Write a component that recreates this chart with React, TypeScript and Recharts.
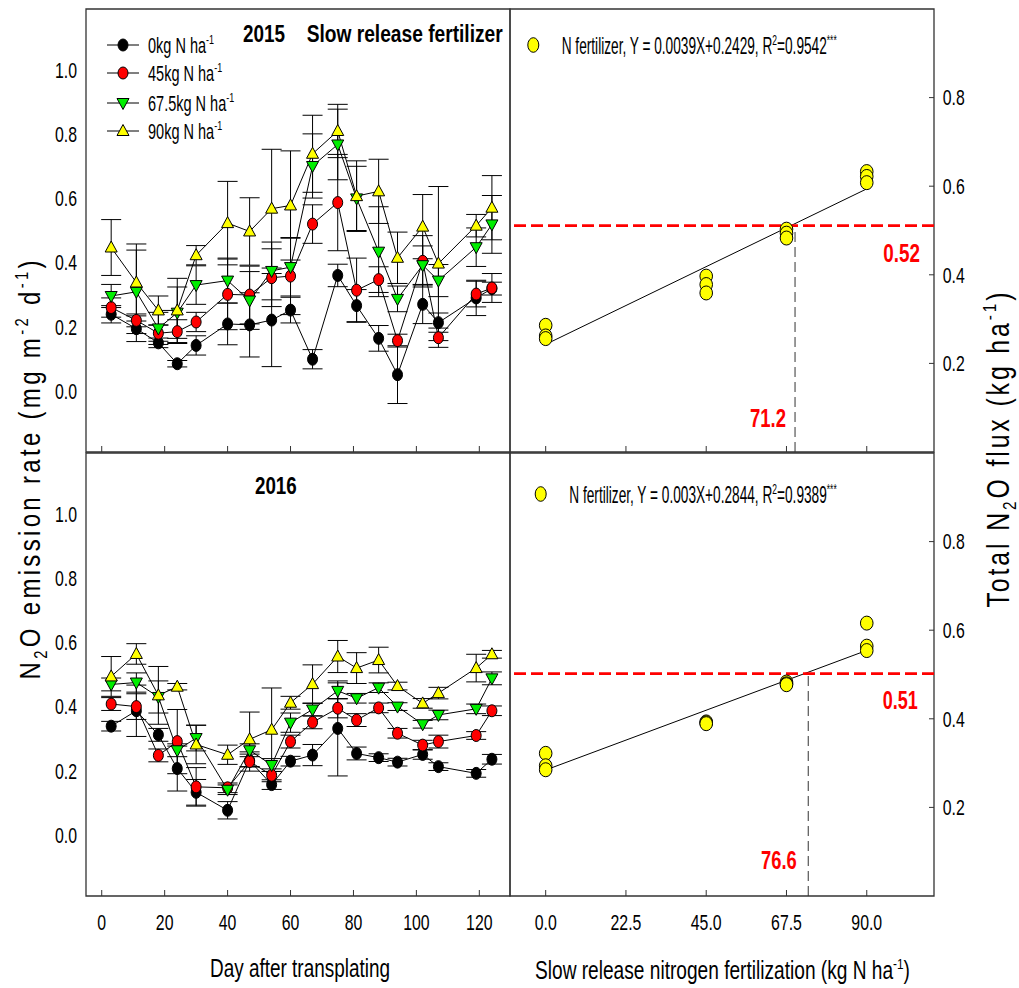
import React from 'react';
import { ComposedChart, Line, Scatter, XAxis, YAxis, ErrorBar, ReferenceLine, ReferenceArea } from 'recharts';

// ---------- data ----------
const DAYS = [3, 11, 18, 24, 30, 40, 47, 54, 60, 67, 75, 81, 88, 94, 102, 107, 119, 124];
const DAY_TICKS = [0, 20, 40, 60, 80, 100, 120];
const RATE_TICKS = [0, 0.2, 0.4, 0.6, 0.8, 1.0];

// 2015 emission rate (mg m-2 d-1)
const N0_2015 = [0.239, 0.194, 0.150, 0.085, 0.142, 0.209, 0.206, 0.221, 0.252, 0.099, 0.360, 0.266, 0.164, 0.051, 0.270, 0.213, 0.290, 0.319];
const N45_2015 = [0.260, 0.220, 0.180, 0.185, 0.215, 0.301, 0.299, 0.353, 0.358, 0.520, 0.587, 0.314, 0.347, 0.157, 0.404, 0.166, 0.302, 0.321];
const N67_2015 = [0.296, 0.309, 0.195, 0.244, 0.330, 0.344, 0.282, 0.374, 0.386, 0.701, 0.768, 0.600, 0.434, 0.287, 0.392, 0.344, 0.448, 0.519];
const N90_2015 = [0.447, 0.338, 0.251, 0.251, 0.423, 0.523, 0.497, 0.568, 0.578, 0.739, 0.810, 0.607, 0.622, 0.415, 0.512, 0.397, 0.515, 0.571];
const E0_2015 = [0.027, 0.040, 0.015, 0.010, 0.030, 0.065, 0.100, 0.145, 0.040, 0.030, 0.035, 0.050, 0.040, 0.090, 0.060, 0.030, 0.055, 0.020];
const E45_2015 = [0.030, 0.020, 0.025, 0.037, 0.030, 0.110, 0.090, 0.090, 0.120, 0.060, 0.150, 0.100, 0.040, 0.020, 0.080, 0.030, 0.040, 0.045];
const E67_2015 = [0.036, 0.130, 0.050, 0.080, 0.060, 0.070, 0.090, 0.090, 0.090, 0.100, 0.110, 0.100, 0.140, 0.040, 0.060, 0.050, 0.060, 0.090];
const E90_2015 = [0.087, 0.120, 0.045, 0.100, 0.030, 0.130, 0.105, 0.185, 0.170, 0.120, 0.083, 0.110, 0.100, 0.080, 0.100, 0.240, 0.035, 0.100];

// 2016 emission rate (mg m-2 d-1)
const N0_2016 = [0.339, 0.387, 0.312, 0.207, 0.133, 0.077, 0.232, 0.157, 0.230, 0.249, 0.332, 0.254, 0.241, 0.227, 0.251, 0.213, 0.192, 0.236];
const N45_2016 = [0.408, 0.400, 0.248, 0.291, 0.150, 0.147, 0.229, 0.186, 0.291, 0.351, 0.395, 0.358, 0.396, 0.317, 0.280, 0.291, 0.310, 0.387];
const N67_2016 = [0.469, 0.475, 0.430, 0.264, 0.302, 0.141, 0.264, 0.218, 0.350, 0.391, 0.449, 0.426, 0.459, 0.400, 0.345, 0.374, 0.393, 0.488];
const N90_2016 = [0.494, 0.564, 0.435, 0.462, 0.282, 0.250, 0.298, 0.328, 0.412, 0.470, 0.556, 0.520, 0.545, 0.464, 0.410, 0.442, 0.520, 0.563];
const E0_2016 = [0.015, 0.080, 0.020, 0.070, 0.040, 0.027, 0.020, 0.015, 0.015, 0.033, 0.148, 0.020, 0.012, 0.012, 0.015, 0.012, 0.012, 0.015];
const E45_2016 = [0.020, 0.040, 0.020, 0.100, 0.060, 0.015, 0.030, 0.020, 0.020, 0.020, 0.030, 0.020, 0.015, 0.015, 0.015, 0.020, 0.012, 0.015];
const E67_2016 = [0.020, 0.030, 0.050, 0.020, 0.040, 0.015, 0.020, 0.020, 0.030, 0.020, 0.025, 0.015, 0.015, 0.012, 0.012, 0.015, 0.015, 0.020];
const E90_2016 = [0.062, 0.032, 0.090, 0.010, 0.060, 0.030, 0.085, 0.130, 0.020, 0.060, 0.050, 0.048, 0.040, 0.012, 0.015, 0.018, 0.043, 0.012];

// Total N2O flux (kg ha-1) vs N rate
const N_RATE = [0, 0, 0, 45, 45, 45, 67.5, 67.5, 67.5, 90, 90, 90];
const N_TICKS = [0, 22.5, 45, 67.5, 90];
const FLUX_TICKS = [0.2, 0.4, 0.6, 0.8];
const TOTAL_2015 = [0.286, 0.262, 0.256, 0.397, 0.378, 0.359, 0.503, 0.494, 0.483, 0.633, 0.622, 0.608];
const TOTAL_2016 = [0.322, 0.294, 0.285, 0.393, 0.391, 0.389, 0.483, 0.479, 0.477, 0.616, 0.564, 0.554];
const FIT_X = [0, 90];
const FIT_2015 = [0.2429, 0.594];
const FIT_2016 = [0.2844, 0.5544];
const H_2015 = 0.511;
const V_2015 = 69.9;
const H_2016 = 0.502;
const V_2016 = 73.6;

// ---------- build tables ----------
const mkRows = (a: number[], b: number[], c: number[], d: number[], ea: number[], eb: number[], ec: number[], ed: number[]) =>
  DAYS.map((day, i) => ({ day, n0: a[i], n45: b[i], n67: c[i], n90: d[i], e0: ea[i], e45: eb[i], e67: ec[i], e90: ed[i] }));
const ROWS_2015 = mkRows(N0_2015, N45_2015, N67_2015, N90_2015, E0_2015, E45_2015, E67_2015, E90_2015);
const ROWS_2016 = mkRows(N0_2016, N45_2016, N67_2016, N90_2016, E0_2016, E45_2016, E67_2016, E90_2016);
const PTS_2015 = N_RATE.map((x, i) => ({ x, y: TOTAL_2015[i] }));
const PTS_2016 = N_RATE.map((x, i) => ({ x, y: TOTAL_2016[i] }));
const LINE_2015 = FIT_X.map((x, i) => ({ x, y: FIT_2015[i] }));
const LINE_2016 = FIT_X.map((x, i) => ({ x, y: FIT_2016[i] }));

// ---------- style ----------
const W = 1019;
const H = 988;
const FF = '"Liberation Sans", Arial, Helvetica, sans-serif';
const AX = '#333';
const LEFT_X0 = 86, MID_X = 510, RIGHT_X1 = 934;
const TOP_Y0 = 9, PANEL_H = 443, BOT_Y0 = 453;
const DAY_DOMAIN: [number, number] = [-5, 129.75];
const RATE_DOMAIN: [number, number] = [-0.19, 1.19];
const N_DOMAIN: [number, number] = [-10, 108.85];
const FLUX_DOMAIN: [number, number] = [0, 1];

type TxtProps = {
  x: number; y: number; size: number; sx?: number; rot?: number; anchor?: string; bold?: boolean;
  fill?: string; len?: number; adjust?: string; children?: React.ReactNode;
};
function Txt({ x, y, size, sx = 0.72, rot = 0, anchor = 'start', bold = false, fill = '#000', len, adjust = 'spacingAndGlyphs', children }: TxtProps) {
  return (
    <g transform={`translate(${x},${y}) rotate(${rot}) scale(${sx},1)`}>
      <text
        x={0}
        y={0}
        fontSize={size}
        fontFamily={FF}
        fontWeight={bold ? 'bold' : 'normal'}
        fill={fill}
        textAnchor={anchor as any}
        {...(len ? { textLength: len / sx, lengthAdjust: adjust } : {})}
      >
        {children}
      </text>
    </g>
  );
}

const Sup = ({ size, children }: { size: number; children: React.ReactNode }) => (
  <tspan baselineShift={`${(0.42 * size).toFixed(1)}px`} fontSize={0.62 * size}>{children}</tspan>
);
const Sub = ({ size, children }: { size: number; children: React.ReactNode }) => (
  <tspan baselineShift={`${(-0.22 * size).toFixed(1)}px`} fontSize={0.62 * size}>{children}</tspan>
);

// ---------- markers ----------
type Shape = 'circleBlack' | 'circleRed' | 'triDown' | 'triUp';
function Marker({ cx, cy, shape }: { cx: number; cy: number; shape: Shape }) {
  if (cx == null || cy == null) return null;
  if (shape === 'circleBlack') return <ellipse cx={cx} cy={cy} rx={5} ry={6} fill="#000" stroke="#000" strokeWidth={1} />;
  if (shape === 'circleRed') return <ellipse cx={cx} cy={cy} rx={5} ry={6} fill="#ff0000" stroke="#000" strokeWidth={1} />;
  if (shape === 'triDown')
    return <polygon points={`${cx - 6},${cy - 4.5} ${cx + 6},${cy - 4.5} ${cx},${cy + 6.5}`} fill="#00ee00" stroke="#000" strokeWidth={1} />;
  return <polygon points={`${cx},${cy - 6.5} ${cx - 6},${cy + 4.5} ${cx + 6},${cy + 4.5}`} fill="#ffff00" stroke="#000" strokeWidth={1} />;
}

const SERIES: { key: string; err: string; shape: Shape; label: string }[] = [
  { key: 'n0', err: 'e0', shape: 'circleBlack', label: '0kg N ha' },
  { key: 'n45', err: 'e45', shape: 'circleRed', label: '45kg N ha' },
  { key: 'n67', err: 'e67', shape: 'triDown', label: '67.5kg N ha' },
  { key: 'n90', err: 'e90', shape: 'triUp', label: '90kg N ha' },
];

// ---------- ticks ----------
const TICK_SIZE = 22;
function makeXTick(showLabel: boolean, fmt: (v: number) => string) {
  return (p: any) => {
    const { x, y, payload } = p;
    return (
      <g>
        <line x1={x} x2={x} y1={y} y2={y - 6} stroke={AX} strokeWidth={1} />
        {showLabel && (
          <Txt x={x} y={y + 33.7} size={TICK_SIZE} anchor="middle">{fmt(payload.value)}</Txt>
        )}
      </g>
    );
  };
}
const leftYTick = (p: any) => (
  <Txt x={p.x - 9} y={p.y + 0.358 * TICK_SIZE} size={TICK_SIZE} anchor="end">{Number(p.payload.value).toFixed(1)}</Txt>
);
const rightYTick = (p: any) => (
  <g>
    <line x1={p.x - 5} x2={p.x} y1={p.y} y2={p.y} stroke={AX} strokeWidth={1} />
    <Txt x={p.x + 8.7} y={p.y + 0.358 * TICK_SIZE} size={TICK_SIZE} anchor="start">{Number(p.payload.value).toFixed(1)}</Txt>
  </g>
);

const chartStyle: React.CSSProperties = { position: 'absolute', left: 0, top: 0 };

function TimePanel({ rows, top, showLabels }: { rows: any[]; top: number; showLabels: boolean }) {
  return (
    <ComposedChart
      width={W}
      height={H}
      data={rows}
      margin={{ top, left: LEFT_X0 - 1, right: W - MID_X, bottom: H - (top + PANEL_H) - 1 }}
      style={chartStyle}
    >
      <XAxis
        dataKey="day"
        type="number"
        domain={DAY_DOMAIN}
        ticks={DAY_TICKS}
        interval={0}
        allowDataOverflow
        height={1}
        axisLine={false}
        tickLine={false}
        tickSize={0}
        tickMargin={0}
        tick={makeXTick(showLabels, (v) => String(v))}
      />
      <YAxis
        type="number"
        domain={RATE_DOMAIN}
        ticks={RATE_TICKS}
        interval={0}
        allowDataOverflow
        width={1}
        axisLine={false}
        tickLine={false}
        tickSize={0}
        tickMargin={0}
        tick={leftYTick}
      />
      <ReferenceArea
        x1={DAY_DOMAIN[0]}
        x2={DAY_DOMAIN[1]}
        y1={RATE_DOMAIN[0]}
        y2={RATE_DOMAIN[1]}
        fill="none"
        fillOpacity={0}
        stroke={AX}
        strokeWidth={1.3}
        ifOverflow="visible"
      />
      {SERIES.map((s) => (
        <Line
          key={s.key}
          dataKey={s.key}
          type="linear"
          stroke="#000"
          strokeWidth={1}
          isAnimationActive={false}
          activeDot={false}
          dot={(p: any) => <Marker key={`${s.key}-${p.index}`} cx={p.cx} cy={p.cy} shape={s.shape} />}
        >
          <ErrorBar dataKey={s.err} width={10} stroke="#000" strokeWidth={1} direction="y" isAnimationActive={false} />
        </Line>
      ))}
    </ComposedChart>
  );
}

function FitPanel({ pts, fit, top, hLine, vLine, showLabels }: { pts: any[]; fit: any[]; top: number; hLine: number; vLine: number; showLabels: boolean }) {
  return (
    <ComposedChart
      width={W}
      height={H}
      margin={{ top, left: MID_X, right: W - RIGHT_X1 - 1, bottom: H - (top + PANEL_H) - 1 }}
      style={chartStyle}
    >
      <XAxis
        dataKey="x"
        type="number"
        domain={N_DOMAIN}
        ticks={N_TICKS}
        interval={0}
        allowDataOverflow
        height={1}
        axisLine={false}
        tickLine={false}
        tickSize={0}
        tickMargin={0}
        tick={makeXTick(showLabels, (v) => Number(v).toFixed(1))}
      />
      <YAxis
        dataKey="y"
        orientation="right"
        type="number"
        domain={FLUX_DOMAIN}
        ticks={FLUX_TICKS}
        interval={0}
        allowDataOverflow
        width={1}
        axisLine={false}
        tickLine={false}
        tickSize={0}
        tickMargin={0}
        tick={rightYTick}
      />
      <ReferenceArea
        x1={N_DOMAIN[0]}
        x2={N_DOMAIN[1]}
        y1={FLUX_DOMAIN[0]}
        y2={FLUX_DOMAIN[1]}
        fill="none"
        fillOpacity={0}
        stroke={AX}
        strokeWidth={1.3}
        ifOverflow="visible"
      />
      <ReferenceLine
        segment={[{ x: vLine, y: FLUX_DOMAIN[0] }, { x: vLine, y: hLine }]}
        stroke="#333"
        strokeWidth={1}
        strokeDasharray="10 5"
        ifOverflow="visible"
      />
      <Line data={fit} dataKey="y" type="linear" stroke="#000" strokeWidth={1} dot={false} activeDot={false} isAnimationActive={false} />
      <ReferenceLine y={hLine} stroke="#ff0000" strokeWidth={2.6} strokeDasharray="12 5" ifOverflow="visible" />
      <Scatter
        data={pts}
        dataKey="y"
        isAnimationActive={false}
        shape={(p: any) => <ellipse cx={p.cx} cy={p.cy} rx={6.3} ry={7} fill="#ffff00" stroke="#000" strokeWidth={1} />}
      />
    </ComposedChart>
  );
}

function Annotations() {
  const legendRows = [45, 73, 103, 131];
  const s = 22;
  return (
    <svg width={W} height={H} style={{ position: 'absolute', left: 0, top: 0, pointerEvents: 'none' }}>
      {/* left legend */}
      {SERIES.map((ser, i) => (
        <g key={ser.key}>
          <line x1={107} x2={139} y1={legendRows[i]} y2={legendRows[i]} stroke="#000" strokeWidth={1} />
          <Marker cx={123} cy={legendRows[i]} shape={ser.shape} />
          <Txt x={148} y={legendRows[i] + 8} size={s} sx={0.66}>
            {ser.label}
            <Sup size={s}>-1</Sup>
          </Txt>
        </g>
      ))}

      {/* titles */}
      <Txt x={243} y={41.7} size={23.5} bold sx={0.8} len={42}>2015</Txt>
      <Txt x={306.7} y={41.7} size={23.5} bold sx={0.8} len={196}>Slow release fertilizer</Txt>
      <Txt x={255} y={494} size={23.5} bold sx={0.8} len={41.7}>2016</Txt>

      {/* right legends */}
      <ellipse cx={533.3} cy={45} rx={5.5} ry={7.3} fill="#ffff00" stroke="#000" strokeWidth={1} />
      <Txt x={561.7} y={54} size={23} sx={0.66} len={275}>
        N fertilizer, Y = 0.0039X+0.2429, R<Sup size={23}>2</Sup>=0.9542<Sup size={23}>***</Sup>
      </Txt>
      <ellipse cx={540.7} cy={494} rx={5.5} ry={7.3} fill="#ffff00" stroke="#000" strokeWidth={1} />
      <Txt x={569.3} y={503} size={23} sx={0.66} len={267.4}>
        N fertilizer, Y = 0.003X+0.2844, R<Sup size={23}>2</Sup>=0.9389<Sup size={23}>***</Sup>
      </Txt>

      {/* red annotations */}
      <Txt x={883.3} y={261.7} size={25} bold sx={0.75} fill="#ff0000" len={36.7}>0.52</Txt>
      <Txt x={750} y={426.7} size={25} bold sx={0.75} fill="#ff0000" len={36}>71.2</Txt>
      <Txt x={882.7} y={709} size={25} bold sx={0.75} fill="#ff0000" len={35}>0.51</Txt>
      <Txt x={761} y={869.3} size={25} bold sx={0.75} fill="#ff0000" len={35.7}>76.6</Txt>

      {/* axis titles */}
      <Txt x={300} y={977} size={25} sx={0.72} anchor="middle" len={180}>Day after transplating</Txt>
      <Txt x={535} y={979} size={25} sx={0.72} len={375}>
        Slow release nitrogen fertilization (kg N ha<Sup size={25}>-1</Sup>)
      </Txt>
      <Txt x={40} y={470} rot={-90} size={30} sx={0.8} anchor="middle" len={419} adjust="spacing">
        N<Sub size={30}>2</Sub>O emission rate (mg m<Sup size={30}>-2</Sup> d<Sup size={30}>-1</Sup>)
      </Txt>
      <Txt x={1009} y={450} rot={-90} size={31} sx={0.8} anchor="middle" len={315} adjust="spacing">
        Total N<Sub size={31}>2</Sub>O flux (kg ha<Sup size={31}>-1</Sup>)
      </Txt>
    </svg>
  );
}

export default function App() {
  return (
    <div style={{ position: 'absolute', left: 0, top: 0, width: W, height: H, background: '#fff' }}>
      <TimePanel rows={ROWS_2015} top={TOP_Y0} showLabels={false} />
      <TimePanel rows={ROWS_2016} top={BOT_Y0} showLabels={true} />
      <FitPanel pts={PTS_2015} fit={LINE_2015} top={TOP_Y0} hLine={H_2015} vLine={V_2015} showLabels={false} />
      <FitPanel pts={PTS_2016} fit={LINE_2016} top={BOT_Y0} hLine={H_2016} vLine={V_2016} showLabels={true} />
      <Annotations />
    </div>
  );
}
